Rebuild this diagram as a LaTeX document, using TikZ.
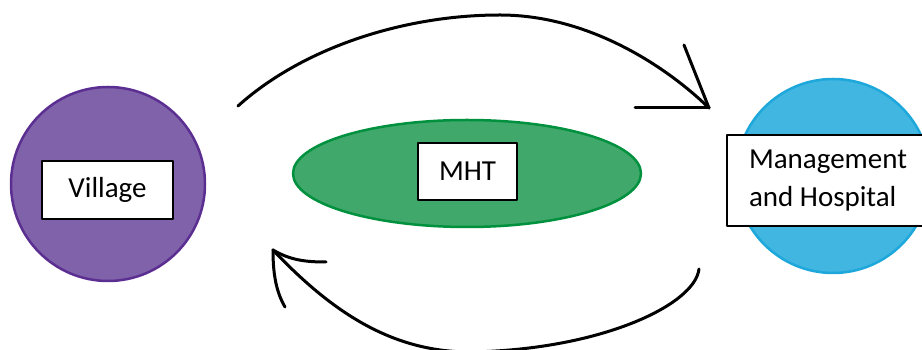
\documentclass[tikz,border=0pt]{standalone}
\usepackage{fontspec}
\setmainfont{Carlito}
\usepackage{tkz-euclide}
\usepackage{tikz}
\usetikzlibrary{shapes,positioning}
\colorlet{background}{white}
\colorlet{penColor}{black}
\definecolor{villageFill}{HTML}{8062AA}
\definecolor{villageLine}{HTML}{5B2E91}
\definecolor{mhtFill}{HTML}{41A86B}
\definecolor{mhtLine}{HTML}{00913F}
\definecolor{hospFill}{HTML}{41B6E0}
\definecolor{hospLine}{HTML}{1DA7DB}

\begin{document}
\begin{tikzpicture}[x=1pt,y=1pt,line cap=round,line join=round,
    bubble/.style={circle,minimum size=194pt,inner sep=0pt,line width=2.5pt},
    namebox/.style={draw=black,fill=white,line width=1.5pt,inner sep=0pt,
      font=\fontsize{29}{38}\selectfont},
    stroke/.style={penColor,line width=3pt}]
    \useasboundingbox (0,0) rectangle (922,350);

    \node[bubble,draw=villageLine,fill=villageFill] (village) at (108,166) {};
    \node[ellipse,minimum width=348pt,minimum height=107pt,inner sep=0pt,
      draw=mhtLine,fill=mhtFill,line width=2.5pt] (mht) at (467,176.5) {};
    \node[bubble,draw=hospLine,fill=hospFill] (hosp) at (833,174) {};

    \node[namebox,minimum width=131pt,minimum height=58pt] (villageText) at (107.5,160) {Village};
    \node[namebox,minimum width=99pt,minimum height=57pt] (mhtText) at (467.5,178.5) {MHT};
    \node[namebox,minimum width=202pt,minimum height=91pt,align=left] (hospText) at (828,169.5)
      {Management\\and Hospital};

    \tkzDefPoint(238,244){T1}
    \tkzDefPoint(500,335){T2}
    \tkzDefPoint(709,242){T3}
    \tkzDefPoint(684,305){T4}
    \tkzDefPoint(635,242){T5}
    \draw[stroke] (T1) .. controls (300,300) and (400,335) .. (T2)
      .. controls (590,335) and (668,282) .. (T3);
    \draw[stroke] (T4) -- (T3);
    \draw[stroke] (T5) -- (T3);

    \tkzDefPoint(699,81){B1}
    \tkzDefPoint(470,-2){B2}
    \tkzDefPoint(273,100){B3}
    \tkzDefPoint(326,88){B4}
    \tkzDefPoint(285,43){B5}
    \draw[stroke] (B1) .. controls (695,45) and (600,0) .. (B2)
      .. controls (390,-2) and (330,40) .. (B3);
    \draw[stroke] (B3) .. controls (290,90) and (305,88) .. (B4);
    \draw[stroke] (B3) .. controls (273,80) and (275,60) .. (B5);
  \end{tikzpicture}
\end{document}
